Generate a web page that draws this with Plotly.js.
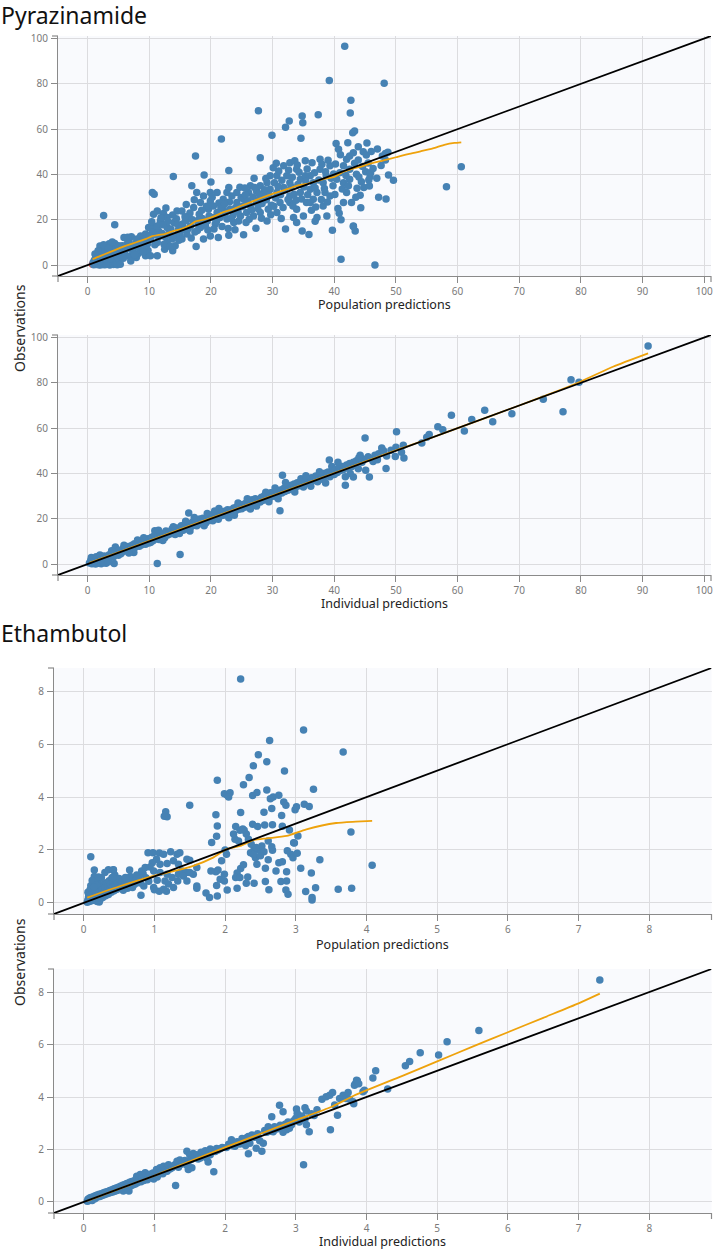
<!DOCTYPE html>
<html>
<head>
<meta charset="utf-8">
<script src="https://cdn.plot.ly/plotly-3.0.1.min.js"></script>
<style>
  html, body { margin: 0; padding: 0; background: #ffffff; }
  #gof { width: 714px; height: 1251px; }
</style>
</head>
<body>
<div id="gof"></div>
<script>
// Goodness-of-fit plots: observations vs population / individual predictions

const drugNames = ["Pyrazinamide", "Ethambutol"];
const xTitles = ["Population predictions", "Individual predictions"];
const yTitle = "Observations";

const pzaRange = [-4.8, 101.1];
const embRange = [-0.42, 8.88];
const pzaXTicks = [0, 10, 20, 30, 40, 50, 60, 70, 80, 90, 100];
const pzaYTicks = [0, 20, 40, 60, 80, 100];
const embXTicks = [0, 1, 2, 3, 4, 5, 6, 7, 8];
const embYTicks = [0, 2, 4, 6, 8];

// Pyrazinamide: [population prediction, observation]
const pzaPredObs = [
  [0.9,1.2],[1.0,0.2],[1.1,2.1],[1.2,0.8],[1.3,3.2],[1.4,0.3],[1.5,1.8],[1.6,4.4],[1.7,0.9],[1.8,2.7],
  [1.9,0.1],[2.0,5.6],[2.1,1.5],[2.2,3.6],[2.3,0.4],[2.4,7.2],[2.5,2.4],[2.6,4.8],[2.7,0.2],[2.8,6.1],
  [2.9,1.2],[3.0,3.4],[3.1,8.3],[3.2,0.5],[3.3,5.2],[3.4,2.2],[3.5,9.4],[3.6,0.1],[3.7,4.1],[3.8,6.8],
  [3.9,1.6],[4.0,8.0],[4.1,3.0],[4.2,0.3],[4.3,5.9],[4.4,9.5],[4.5,1.1],[4.6,7.3],[4.7,3.8],[4.8,0.2],
  [4.9,5.0],[5.0,8.6],[5.1,2.6],[5.2,6.5],[5.3,0.4],[2.0,8.4],[2.6,9.0],[1.7,6.3],[3.4,7.5],[4.0,10.2],
  [2.2,0.2],[3.0,0.3],[5.5,4.6],[5.7,7.8],[1.2,4.9],[2.9,2.6],[3.7,2.8],[4.5,4.6],[2.6,21.9],[4.4,17.8],
  [5.9,12.2],[7.1,12.5],[6.4,9.3],[7.9,3.4],[8.6,7.0],[9.4,4.1],[9.7,9.3],[8.6,12.9],[8.0,11.5],[9.4,13.7],
  [9.1,10.0],[7.5,8.5],[6.2,7.0],[5.6,8.5],[6.7,10.7],[9.9,16.6],[6.0,5.2],[6.8,3.9],[7.3,6.3],[7.8,9.6],
  [8.2,5.1],[8.9,8.2],[9.2,11.4],[9.8,6.4],[6.5,12.3],[5.8,3.0],[7.0,1.8],[8.4,10.2],[9.6,12.1],[6.9,7.9],
  [8.1,8.0],[7.6,4.6],[9.0,5.8],
  [10.2,4.1],[11.3,4.1],[10.2,11.5],[11.3,10.0],[12.5,7.0],[13.8,6.3],[14.2,8.5],[10.7,22.5],[11.3,23.9],[12.3,22.8],
  [12.9,21.0],[11.8,19.5],[10.7,16.6],[10.5,14.4],[11.5,15.1],[12.9,16.6],[14.0,18.8],[14.5,23.9],[13.7,11.5],[12.9,10.0],
  [10.5,32.0],[10.8,31.3],[13.9,39.1],[11.3,17.3],[10.1,12.8],[10.9,9.0],[11.6,12.6],[12.1,14.0],[12.6,12.4],[13.2,13.8],
  [13.5,15.9],[14.1,13.0],[14.7,15.4],[13.0,19.3],[12.2,17.8],[14.4,20.5],[14.8,11.0],[10.4,19.1],[11.1,13.3],[12.4,9.2],
  [13.4,8.2],[14.6,17.9],[13.8,22.1],[12.7,25.2],[11.9,20.9],[14.9,13.8],
  [15.3,23.9],[16.4,21.7],[17.2,25.4],[18.3,27.6],[18.8,30.5],[19.9,32.0],[17.7,32.0],[16.9,35.0],[19.4,19.5],[18.3,16.6],
  [16.7,17.3],[15.0,12.9],[15.3,11.5],[16.1,13.7],[17.6,8.2],[18.8,11.5],[19.9,12.9],[17.5,48.2],[18.9,39.8],[19.6,24.7],
  [19.9,28.3],[15.6,15.8],[15.9,19.6],[16.3,16.1],[16.6,23.0],[17.0,20.0],[17.4,14.6],[17.9,18.3],[18.1,22.4],[18.6,20.6],
  [19.1,17.6],[19.3,26.0],[15.4,18.2],[16.0,26.8],[17.3,28.9],[18.5,24.2],[19.7,21.7],[15.8,21.3],[17.8,15.3],[19.5,15.5],
  [16.8,12.0],[18.0,19.9],
  [20.0,36.7],[21.0,32.0],[22.0,29.1],[22.6,32.0],[23.4,30.5],[24.2,27.6],[22.9,34.2],[24.2,32.0],[21.2,12.2],[22.9,13.2],
  [21.7,55.7],[22.9,41.7],[20.4,26.1],[21.0,23.2],[20.4,21.0],[22.6,20.3],[23.7,18.8],[24.8,21.7],[22.0,24.7],[21.5,21.0],
  [23.1,24.7],[20.7,18.2],[21.3,27.4],[21.8,17.0],[22.3,22.6],[23.0,27.9],[23.6,22.1],[24.0,25.3],[24.5,19.5],[24.9,29.8],
  [20.2,30.0],[21.6,25.6],[22.8,16.2],[23.3,20.7],[24.4,23.6],[20.9,19.3],[23.9,15.6],[24.7,34.4],[20.5,15.9],[22.2,27.0],
  [25.3,29.1],[26.1,32.0],[26.4,35.0],[27.4,32.7],[28.0,35.0],[28.5,30.5],[29.1,36.4],[29.6,39.4],[30.1,43.0],[29.6,33.5],
  [27.7,68.1],[29.9,57.3],[28.0,47.4],[29.3,24.7],[28.0,23.2],[26.9,21.7],[25.8,23.2],[25.3,13.4],[27.3,16.3],[25.7,18.8],
  [29.1,19.5],[27.4,27.6],[26.4,26.1],[25.1,25.9],[25.6,31.1],[26.0,28.4],[26.6,24.3],[26.8,30.1],[27.1,34.3],[27.6,25.0],
  [27.9,29.4],[28.3,27.2],[28.7,33.3],[29.0,28.8],[29.4,31.0],[29.8,26.4],[25.5,34.0],[26.2,20.2],[27.0,38.3],[28.2,20.7],
  [28.9,38.2],[29.7,22.2],[25.9,27.0],[27.8,31.5],
  [30.7,23.2],[30.7,32.0],[31.8,34.2],[32.8,36.4],[32.3,39.4],[32.8,45.2],[33.6,46.0],[32.8,27.6],[33.9,24.7],[33.4,21.0],
  [35.0,21.7],[33.9,18.8],[32.8,30.5],[31.2,27.6],[30.7,39.4],[31.8,43.8],[33.9,42.3],[34.5,32.0],[34.5,37.9],[32.1,15.9],
  [34.8,15.1],[32.7,63.6],[34.8,65.8],[34.9,62.8],[32.1,60.8],[34.6,56.0],[30.3,36.3],[30.5,29.6],[30.9,34.7],[31.3,31.0],
  [31.5,37.5],[31.7,25.4],[32.0,33.1],[32.5,29.0],[33.0,34.7],[33.2,38.8],[33.5,31.3],[33.8,28.6],[34.1,35.6],[34.3,41.0],
  [34.7,29.2],[30.2,26.0],[31.0,41.5],[32.6,41.9],[33.3,26.1],[34.0,44.2],[31.4,20.6],[30.6,45.0],
  [35.3,46.0],[36.4,45.2],[37.7,46.7],[35.5,27.6],[36.6,29.1],[37.2,32.0],[38.2,26.1],[39.3,30.5],[39.8,35.0],[36.1,33.5],
  [36.1,39.4],[37.7,42.3],[38.7,39.4],[38.8,21.7],[37.2,21.0],[36.1,27.6],[35.3,39.4],[36.6,36.4],[38.2,36.4],[39.3,43.8],
  [35.9,13.5],[36.9,19.4],[39.7,15.4],[37.4,66.4],[39.2,81.5],[38.5,32.0],[35.1,34.5],[35.7,31.0],[36.3,24.2],[36.9,34.0],
  [37.5,37.6],[37.9,29.0],[38.4,33.8],[38.9,27.8],[39.5,38.3],[35.6,42.4],[36.8,40.8],[37.0,25.6],[38.0,44.5],[39.0,46.3],
  [39.9,40.2],[35.4,36.9],[38.6,41.2],
  [40.4,37.9],[40.9,40.8],[41.5,43.8],[42.0,46.7],[42.5,48.2],[40.7,51.1],[40.3,53.7],[42.0,32.0],[42.5,37.9],[41.5,27.6],
  [42.8,27.6],[41.1,20.0],[43.1,17.3],[41.5,36.4],[42.5,42.3],[43.1,49.6],[41.7,96.6],[42.7,72.8],[42.6,67.1],[43.0,58.4],
  [43.3,59.2],[41.1,2.6],[43.4,15.1],[43.1,17.0],[44.2,30.8],[44.4,36.8],[43.7,33.9],[44.7,50.0],[43.9,52.2],[43.3,44.9],
  [43.9,46.4],[44.6,43.5],[45.1,41.2],[40.1,31.2],[40.6,25.0],[41.3,33.6],[41.9,39.6],[42.3,35.0],[43.6,40.1],[44.0,38.9],
  [44.8,34.2],[40.2,44.6],[41.0,48.7],[42.2,54.0],[43.5,30.0],[44.3,25.3],[40.8,22.9],
  [45.2,48.6],[45.7,34.9],[45.6,37.6],[45.8,39.0],[45.9,40.8],[47.0,51.2],[48.3,49.3],[48.7,49.8],[48.3,46.4],[48.8,39.8],
  [49.6,37.4],[47.2,30.0],[48.4,29.2],[46.6,0.1],[48.1,80.2],[45.5,45.1],[46.3,42.6],[46.9,38.3],[47.6,44.0],[45.3,53.9],
  [46.0,50.1],[47.8,48.1],[58.2,34.6],[60.6,43.4]
];
// Pyrazinamide: sample below the quantification limit
const pzaPredBlq = [[0.8,0.4]];
// Pyrazinamide: smoother through observations vs population predictions
const pzaPredSmoothX = [0.8,2,3.5,5,6.5,8,9.5,10.5,11.5,12.5,13.5,15,16.5,17.5,19,20.5,22,23.5,25,26.5,28,29.5,31,32.5,34,35.5,37,38.5,40,41.5,43,44.5,46,48,50,52,54,56,58,59.5,60.6];
const pzaPredSmoothY = [2.6,4.0,5.6,7.3,8.8,10.2,11.6,12.8,13.3,13.7,14.7,15.8,17.5,19.3,20.2,21.5,23.4,24.6,26.3,27.8,29.5,31.0,32.3,33.6,35.1,35.8,37.0,38.2,38.9,41.2,42.6,43.6,44.9,46.2,47.6,49.0,50.2,51.5,53.2,53.9,54.2];

// Pyrazinamide: [individual prediction, observation]
const pzaIpredObs = [
  [0.3,0.5],[0.5,1.6],[0.7,0.2],[0.9,2.3],[1.0,0.8],[1.2,1.9],[1.3,0.1],[1.5,2.6],[1.6,1.2],[1.8,0.4],
  [1.9,3.1],[2.1,1.7],[2.2,0.2],[2.4,2.9],[2.5,1.3],[2.7,3.6],[2.8,2.2],[3.0,0.4],[3.1,3.4],[3.3,2.0],
  [3.5,4.1],[3.6,2.9],[3.8,3.7],[4.0,4.8],[4.2,3.2],[4.3,0.3],[4.5,7.6],[4.6,4.4],[4.8,5.6],[5.0,3.9],
  [0.6,2.9],[1.4,3.3],[2.0,4.0],[2.6,0.6],[3.4,1.0],[3.9,5.9],[1.1,1.3],
  [5.2,6.1],[5.4,4.6],[5.6,5.5],[5.8,7.0],[6.0,5.8],[6.2,6.9],[6.4,6.0],[6.6,7.8],[6.8,6.4],[7.0,7.2],
  [7.2,8.3],[7.4,6.7],[7.6,9.0],[7.8,7.6],[8.0,8.5],[8.2,9.4],[8.4,7.9],[8.6,9.9],[8.8,8.6],[9.0,9.1],
  [9.2,10.4],[9.4,8.8],[9.6,10.0],[9.8,11.2],[7.5,5.1],[8.1,10.6],[5.9,8.3],[9.9,9.3],[6.7,4.9],[9.1,11.6],
  [10.0,10.6],[10.2,9.5],[10.4,11.9],[10.6,10.3],[10.8,12.4],[11.0,11.1],[11.3,0.3],[11.4,12.8],[11.6,10.9],[11.8,13.6],
  [12.0,12.1],[12.3,13.0],[12.5,11.6],[12.7,14.6],[13.0,12.9],[13.2,14.1],[13.5,13.4],[13.7,15.5],[14.0,14.2],[14.2,13.1],
  [14.5,15.9],[14.7,14.6],[15.0,4.3],[15.0,15.6],[10.9,14.7],[12.2,10.4],[13.9,16.5],[14.9,13.5],[11.5,14.9],
  [15.2,16.9],[15.5,14.9],[15.7,16.3],[16.0,17.4],[16.2,15.5],[16.4,22.6],[16.5,17.9],[16.8,16.6],[17.0,18.5],[17.2,17.2],
  [17.5,19.1],[17.7,16.9],[18.0,18.8],[18.2,19.9],[18.5,17.8],[18.7,20.2],[19.0,19.2],[19.2,18.3],[19.5,20.6],[19.7,19.4],
  [19.9,21.7],[15.9,18.9],[17.3,20.6],[18.9,16.9],[16.6,14.6],[19.4,22.3],
  [20.1,20.2],[20.3,19.1],[20.5,21.5],[20.8,20.5],[21.0,22.0],[21.2,19.8],[21.5,21.2],[21.7,22.9],[22.0,21.6],[22.2,23.3],
  [22.5,22.1],[22.7,24.0],[23.0,22.7],[23.2,23.9],[23.5,22.4],[23.7,24.8],[24.0,23.6],[24.2,25.3],[24.5,24.2],[24.7,25.9],
  [25.0,24.4],[21.3,24.5],[22.9,20.5],[24.4,27.0],[20.6,23.4],[23.8,21.6],
  [25.2,26.3],[25.5,25.1],[25.7,27.0],[26.0,25.9],[26.2,27.6],[26.5,26.4],[26.7,28.4],[27.0,26.9],[27.2,28.8],[27.5,27.3],
  [27.7,28.3],[28.0,27.4],[28.2,29.5],[28.5,28.2],[28.7,30.3],[29.0,28.8],[29.2,30.7],[29.5,29.2],[29.7,31.5],[30.0,29.9],
  [25.9,28.9],[27.4,25.6],[28.9,31.7],[26.4,24.3],[29.4,27.5],
  [30.2,31.6],[30.5,30.0],[30.7,32.2],[31.0,30.9],[31.2,23.5],[31.3,32.7],[31.6,39.2],[31.5,31.4],[31.8,33.4],[32.0,32.0],
  [32.3,34.1],[32.5,32.6],[32.8,33.5],[33.0,34.8],[33.3,33.2],[33.5,35.4],[33.8,34.1],[34.0,35.9],[34.3,34.6],[34.5,36.3],
  [34.8,35.1],[35.0,34.0],[30.9,28.8],[32.1,36.0],[33.6,31.8],[34.6,37.7],[30.4,33.6],
  [35.2,36.6],[35.5,35.6],[35.8,37.5],[36.0,36.0],[36.3,38.1],[36.5,36.8],[36.8,37.2],[37.0,38.9],[37.3,36.3],[37.5,38.5],
  [37.8,37.5],[38.0,39.5],[38.3,38.3],[38.5,40.1],[38.8,39.0],[39.0,40.7],[39.2,45.9],[39.3,38.6],[39.5,40.2],[39.8,41.4],
  [40.0,39.6],[36.2,34.4],[37.6,40.8],[38.6,35.8],[39.6,43.1],[35.4,39.0],
  [40.2,41.9],[40.5,40.4],[40.8,42.6],[41.0,41.3],[41.3,43.1],[41.5,41.8],[41.8,34.8],[41.8,38.5],[42.0,43.7],[42.3,42.5],
  [42.5,44.4],[42.8,43.0],[43.1,38.4],[43.1,45.0],[43.3,43.8],[43.6,45.6],[43.9,42.1],[44.2,48.0],[44.5,44.9],[44.8,46.3],
  [45.0,55.6],[45.1,41.4],[45.7,38.4],[40.6,45.0],[42.6,40.0],[44.0,46.9],
  [46.0,46.5],[46.6,48.0],[47.2,48.7],[47.7,51.2],[48.4,42.2],[48.5,47.7],[49.9,47.5],[50.0,51.6],[50.1,58.4],[50.9,49.4],
  [51.2,52.4],[51.3,46.8],[54.2,53.5],[55.0,56.0],[55.4,57.2],[45.5,47.4],[46.3,45.3],[47.0,46.1],[48.0,50.0],[49.2,50.3],
  [56.8,60.6],[57.6,59.3],[59.0,65.7],[61.1,58.7],[62.3,63.8],[64.4,67.9],[65.7,62.8],[68.8,66.3],[73.9,72.7],[77.1,67.2],
  [78.4,81.4],[79.7,80.2],[90.9,96.3]
];
const pzaIpredSmoothX = [0.3,5,10,20,30,40,50,55,60,70,75,80,85.2,90.9];
const pzaIpredSmoothY = [0.6,5.2,10.3,20.3,30.2,40.2,50.2,55.0,60.0,70.0,75.1,80.6,87.1,93.0];

// Ethambutol: [population prediction, observation]
const embPredObs = [
  [0.05,0.02],[0.06,0.12],[0.07,0.25],[0.08,0.05],[0.09,0.18],[0.10,0.32],[0.11,0.08],[0.12,0.22],[0.13,0.40],[0.14,0.10],
  [0.15,0.28],[0.16,0.48],[0.17,0.15],[0.18,0.35],[0.19,0.05],[0.20,0.55],[0.21,0.25],[0.22,0.42],[0.23,0.12],[0.24,0.62],
  [0.25,0.33],[0.26,0.50],[0.27,0.20],[0.28,0.70],[0.29,0.38],[0.30,0.58],[0.31,0.27],[0.32,0.76],[0.33,0.45],[0.34,0.64],
  [0.35,0.32],[0.36,0.84],[0.37,0.52],[0.38,0.70],[0.39,0.40],[0.40,0.95],[0.41,0.60],[0.42,0.78],[0.43,0.46],[0.44,1.05],
  [0.45,0.66],[0.46,0.85],[0.47,0.52],[0.48,0.74],[0.50,0.92],[0.52,0.60],[0.54,0.80],[0.56,0.48],[0.58,0.70],[0.60,0.88],
  [0.62,0.55],[0.64,0.76],[0.66,1.00],[0.68,0.62],[0.70,0.84],[0.72,0.70],[0.75,1.05],[0.78,0.90],[0.80,0.75],[0.84,1.10],
  [0.88,0.95],[0.92,0.82],[0.10,0.65],[0.15,1.00],[0.12,0.85],[0.20,0.80],[0.30,1.15],[0.35,1.25],[0.25,0.95],[0.42,1.25],
  [0.18,0.68],[0.06,0.40],[0.09,0.50],[0.22,0.03],[0.08,0.30],[0.14,0.60],
  [0.10,1.74],[0.15,1.24],[0.21,0.98],[0.42,1.24],[0.41,0.96],[0.65,1.24],[0.59,0.96],[0.85,0.64],[0.81,0.29],[0.69,0.58],
  [0.73,0.83],[0.82,1.21],[0.91,1.90],[0.98,1.90],[1.00,0.50],[1.07,0.44],[1.17,0.44],
  [1.07,1.89],[1.13,1.84],[1.08,1.46],[1.18,1.49],[1.03,1.65],[0.97,1.52],[0.94,1.36],[0.87,1.34],[0.99,1.21],[1.08,1.15],
  [1.18,1.08],[1.25,0.96],[1.34,1.08],[1.39,1.21],[1.45,1.15],[1.04,0.86],[1.15,0.83],[1.20,0.71],[1.27,0.58],[1.13,0.52],
  [0.99,0.58],[1.33,0.83],[1.41,1.02],[1.46,0.83],[1.34,1.46],[1.27,1.59],[1.32,1.84],[1.23,1.93],[1.36,1.90],[1.46,1.65],
  [1.50,1.61],[1.60,1.34],[1.55,1.08],[1.50,1.15],[1.60,0.64],[1.60,0.55],[1.73,0.37],[1.78,0.20],[1.89,0.26],[1.93,0.89],
  [1.88,0.66],[1.90,1.24],[1.87,1.18],[1.80,1.21],[1.95,1.59],[2.02,1.84],[2.00,2.00],[1.99,0.83],[1.99,1.08],[2.17,0.55],
  [2.03,0.49],[2.32,0.98],[2.30,0.74],[2.41,0.74],[2.22,1.30],[2.26,1.44],[2.17,1.13],[2.15,0.96],[2.21,0.96],
  [1.16,3.45],[1.18,3.26],[1.14,3.28],[1.50,3.69],
  [2.22,8.46],[3.11,6.54],[3.67,5.70],[2.63,6.14],[2.47,5.60],[2.59,5.34],[2.40,5.18],[2.34,4.74],[2.84,4.99],[2.26,4.47],
  [1.89,4.64],[1.99,4.13],[2.03,4.07],[2.07,4.16],[2.05,4.00],[2.39,4.06],[2.45,4.17],[2.59,4.27],[2.68,4.00],[2.64,3.94],
  [2.76,4.07],[2.83,3.81],[2.86,3.69],[2.99,3.52],[3.01,3.63],[3.12,3.73],[3.19,3.64],[3.25,4.30],[2.22,3.42],[2.55,3.43],
  [2.66,3.57],[1.87,3.33],[2.80,3.30],[1.89,2.91],[1.88,2.52],[1.81,2.28],[2.15,2.89],[2.21,2.75],[2.27,2.75],[2.39,2.97],
  [2.46,2.89],[2.56,2.94],[2.67,2.95],[2.81,2.90],[2.91,2.76],[3.03,2.53],[2.97,2.27],[3.78,2.68],[4.08,1.42],[3.34,1.63],
  [3.60,0.52],[3.79,0.55],[3.28,0.57],[3.14,0.43],[3.23,0.20],[3.23,0.11],[2.89,0.33],[2.86,0.49],[2.57,0.81],[2.62,0.50],
  [2.79,0.81],[2.87,0.83],[3.07,1.31],[3.22,1.13],[2.93,1.84],[2.96,1.71],[3.02,1.88],[2.88,1.97],[2.98,2.26],[2.81,1.56],
  [2.76,1.52],[2.72,1.21],[2.87,1.18],[2.67,1.99],[2.61,1.63],[2.57,1.31],[2.45,1.46],[2.43,1.71],[2.48,1.99],[2.41,2.03],
  [2.37,2.22],[2.36,1.90],[2.40,1.84],[2.44,2.09],[2.52,2.15],[2.55,1.93],[2.50,1.78],[2.61,2.34],[2.66,2.12],[2.33,2.41],
  [2.30,2.60],[2.25,2.79],[2.19,2.34],[2.14,2.41],[2.12,2.60]
];
const embPredSmoothX = [0.05,0.5,0.99,1.3,1.55,1.83,2.02,2.21,2.40,2.59,2.87,3.15,3.57,3.85,4.08];
const embPredSmoothY = [0.2,0.62,1.02,1.22,1.40,1.71,2.03,2.15,2.37,2.44,2.53,2.78,3.02,3.07,3.10];

// Ethambutol: [individual prediction, observation]
const embIpredObs = [
  [0.05,0.03],[0.06,0.10],[0.07,0.05],[0.08,0.14],[0.09,0.08],[0.10,0.17],[0.11,0.12],[0.12,0.06],[0.13,0.19],[0.14,0.14],
  [0.15,0.22],[0.16,0.12],[0.17,0.24],[0.18,0.18],[0.19,0.27],[0.20,0.20],[0.22,0.29],[0.23,0.21],[0.25,0.31],[0.26,0.25],
  [0.28,0.35],[0.29,0.28],[0.31,0.38],[0.32,0.30],[0.34,0.40],[0.35,0.33],[0.37,0.44],[0.38,0.36],[0.40,0.47],[0.41,0.38],
  [0.43,0.50],[0.44,0.41],[0.46,0.53],[0.47,0.44],[0.49,0.56],[0.50,0.47],[0.52,0.60],[0.53,0.50],[0.55,0.64],[0.56,0.42],
  [0.58,0.67],[0.59,0.55],[0.61,0.70],[0.62,0.58],[0.64,0.42],[0.65,0.75],[0.67,0.62],[0.68,0.78],[0.70,0.66],[0.72,0.82],
  [0.73,0.69],[0.75,0.98],[0.76,0.73],[0.78,0.88],[0.80,1.05],[0.81,0.77],[0.83,0.92],[0.85,0.82],[0.87,1.11],[0.88,0.97],
  [0.90,0.85],[0.92,0.98],[0.94,1.06],[0.96,0.92],[0.98,1.10],[0.99,0.88],
  [1.01,1.02],[1.03,1.24],[1.04,0.95],[1.06,1.05],[1.08,1.30],[1.10,1.17],[1.12,1.08],[1.13,1.36],[1.15,1.20],[1.18,1.17],
  [1.20,1.42],[1.22,1.26],[1.25,1.30],[1.27,1.36],[1.29,1.42],[1.30,0.63],[1.32,1.55],[1.34,1.32],[1.36,1.60],[1.38,1.44],
  [1.40,1.49],[1.43,1.58],[1.46,1.40],[1.46,1.93],[1.48,1.24],[1.48,1.55],[1.50,1.80],[1.52,1.62],[1.53,1.30],[1.55,1.85],
  [1.57,1.70],[1.60,1.80],[1.62,1.64],[1.65,1.68],[1.66,1.90],[1.68,1.87],[1.70,1.76],[1.72,1.95],[1.74,1.68],[1.76,1.52],
  [1.77,1.84],[1.79,2.02],[1.79,1.80],[1.82,1.97],[1.84,1.15],[1.86,1.92],[1.88,2.04],[1.90,1.98],[1.93,2.03],[1.96,2.08],
  [2.02,2.08],[2.05,2.20],[2.08,2.24],[2.09,2.37],[2.11,2.14],[2.14,2.12],[2.17,2.30],[2.21,2.21],[2.24,2.42],[2.26,2.33],
  [2.29,2.15],[2.31,2.46],[2.33,1.84],[2.33,2.50],[2.35,2.24],[2.38,2.55],[2.42,2.47],[2.44,2.05],[2.46,2.60],[2.49,2.33],
  [2.52,1.93],[2.54,2.24],[2.56,2.72],[2.59,2.66],[2.61,2.87],[2.64,2.70],[2.66,3.25],[2.68,2.68],[2.70,2.87],[2.73,2.78],
  [2.77,3.69],[2.78,2.92],[2.80,2.80],[2.82,2.66],[2.82,2.75],[2.82,3.44],[2.85,2.96],[2.87,2.75],[2.89,3.05],[2.91,2.81],
  [2.94,2.94],[2.97,3.10],
  [3.00,3.19],[3.01,3.54],[3.02,3.38],[3.05,3.05],[3.08,3.28],[3.11,1.42],[3.13,3.16],[3.13,3.59],[3.15,3.47],[3.15,2.94],
  [3.19,2.68],[3.22,3.36],[3.26,3.30],[3.30,3.52],[3.37,3.92],[3.43,4.01],[3.48,4.07],[3.49,2.75],[3.52,4.17],[3.55,3.70],
  [3.59,3.31],[3.62,3.94],[3.67,4.07],[3.71,3.94],[3.74,4.17],[3.76,3.92],[3.81,3.82],[3.82,3.74],[3.83,4.45],[3.84,4.50],
  [3.86,4.64],[3.87,4.62],[3.89,4.51],[3.95,4.20],[3.97,4.26],
  [4.09,4.73],[4.13,5.00],[4.30,4.31],[4.55,5.19],[4.61,5.35],[4.76,5.69],[5.02,5.60],[5.14,6.11],[5.59,6.54],[7.30,8.46]
];
const embIpredSmoothX = [0.05,0.5,1.0,1.5,2.0,2.5,3.0,3.5,3.82,4.5,5.0,5.5,6.0,6.5,7.0,7.3];
const embIpredSmoothY = [0.04,0.5,1.0,1.55,2.08,2.6,3.12,3.62,4.05,4.80,5.36,5.92,6.47,7.02,7.57,7.94];

// ---- styling ----
const pointColor = "#4682b4";
const blqColor = "#d9534f";
const smoothColor = "#eea20c";
const unityColor = "#000000";
const W = 714, H = 1251;
const px = v => v / W;
const py = v => 1 - v / H;

const xs = pts => pts.map(p => p[0]);
const ys = pts => pts.map(p => p[1]);

function panelTraces(idx, pts, smoothX, smoothY, range, blq) {
  const xa = idx === 1 ? "x" : "x" + idx;
  const ya = idx === 1 ? "y" : "y" + idx;
  const out = [];
  if (blq) {
    out.push({type: "scatter", mode: "markers", x: xs(blq), y: ys(blq), xaxis: xa, yaxis: ya,
      marker: {color: blqColor, size: 7.5}, hoverinfo: "x+y"});
  }
  out.push({type: "scatter", mode: "markers", x: xs(pts), y: ys(pts), xaxis: xa, yaxis: ya,
    marker: {color: pointColor, size: 7.5}, hoverinfo: "x+y"});
  out.push({type: "scatter", mode: "lines", x: smoothX, y: smoothY, xaxis: xa, yaxis: ya,
    line: {color: smoothColor, width: 1.8, shape: "spline", smoothing: 0.6}, hoverinfo: "skip"});
  out.push({type: "scatter", mode: "lines", x: range, y: range, xaxis: xa, yaxis: ya,
    line: {color: unityColor, width: 1.8}, hoverinfo: "skip"});
  return out;
}

const data = [
  ...panelTraces(1, pzaPredObs, pzaPredSmoothX, pzaPredSmoothY, pzaRange, pzaPredBlq),
  ...panelTraces(2, pzaIpredObs, pzaIpredSmoothX, pzaIpredSmoothY, pzaRange),
  ...panelTraces(3, embPredObs, embPredSmoothX, embPredSmoothY, embRange),
  ...panelTraces(4, embIpredObs, embIpredSmoothX, embIpredSmoothY, embRange)
];

const tickFont = {family: "Noto Sans, Liberation Sans, sans-serif", size: 10, color: "#7a7a7a"};
function axis(domain, range, ticks, anchor, standoff) {
  return {
    domain: domain, range: range, anchor: anchor,
    tickmode: "array", tickvals: ticks, ticktext: ticks.map(String),
    showgrid: true, gridcolor: "#dcdcdf", gridwidth: 1,
    zeroline: false, showline: true, linecolor: "#8a8a8a", linewidth: 1.2,
    ticks: "outside", ticklen: 6, tickcolor: "#8a8a8a", tickwidth: 1.2,
    ticklabelstandoff: standoff,
    tickfont: tickFont, fixedrange: true
  };
}

// panel boxes in pixels: [left, right, top, bottom]
const boxes = [
  [58, 711, 36, 276],
  [58, 711, 335, 575],
  [54, 711.5, 668, 914],
  [54, 711.5, 969, 1213]
];
const ranges = [pzaRange, pzaRange, embRange, embRange];
const xticks = [pzaXTicks, pzaXTicks, embXTicks, embXTicks];
const yticks = [pzaYTicks, pzaYTicks, embYTicks, embYTicks];

const layout = {
  width: W, height: H,
  margin: {l: 0, r: 0, t: 0, b: 0},
  paper_bgcolor: "#ffffff",
  plot_bgcolor: "#f9fafd",
  showlegend: false,
  hovermode: "closest",
  annotations: [],
  shapes: []
};

boxes.forEach((b, i) => {
  const n = i + 1;
  const xk = n === 1 ? "xaxis" : "xaxis" + n;
  const yk = n === 1 ? "yaxis" : "yaxis" + n;
  const xr = n === 1 ? "x" : "x" + n;
  const yr = n === 1 ? "y" : "y" + n;
  layout[xk] = axis([px(b[0]), px(b[1])], ranges[i], xticks[i], yr, 0);
  layout[yk] = axis([py(b[3]), py(b[2])], ranges[i], yticks[i], xr, 1);
  // end caps on both axis lines
  [0, 1].forEach(e => {
    layout.shapes.push({type: "line", xref: xr + " domain", yref: yr + " domain",
      x0: e, x1: e, ysizemode: "pixel", yanchor: 0, y0: 0, y1: -6,
      line: {color: "#8a8a8a", width: 1.2}});
    layout.shapes.push({type: "line", xref: xr + " domain", yref: yr + " domain",
      y0: e, y1: e, xsizemode: "pixel", xanchor: 0, x0: 0, x1: -6,
      line: {color: "#8a8a8a", width: 1.2}});
  });
});

const titleFont = {family: "Noto Sans, sans-serif", size: 23, color: "#111111"};
const axisTitleFont = {family: "Noto Sans, sans-serif", size: 12.5, color: "#222222"};

layout.annotations.push(
  {text: drugNames[0], xref: "paper", yref: "paper", x: 0, y: py(-2), xanchor: "left", yanchor: "top",
   showarrow: false, font: titleFont, borderpad: 0},
  {text: drugNames[1], xref: "paper", yref: "paper", x: 0, y: py(616), xanchor: "left", yanchor: "top",
   showarrow: false, font: titleFont, borderpad: 0}
);
const xTitleY = [304, 603, 944];
boxes.forEach((b, i) => {
  const last = i === boxes.length - 1;
  layout.annotations.push({text: xTitles[i % 2], xref: "paper", yref: "paper",
    x: px((b[0] + b[1]) / 2), y: last ? 0 : py(xTitleY[i]),
    xanchor: "center", yanchor: last ? "bottom" : "middle",
    showarrow: false, font: axisTitleFont, borderpad: 0});
});
[328, 962].forEach(c => {
  layout.annotations.push({text: yTitle, xref: "paper", yref: "paper", x: px(19), y: py(c),
    xanchor: "center", yanchor: "middle", textangle: -90, showarrow: false,
    font: {family: "Noto Sans, sans-serif", size: 14, color: "#222222"}, borderpad: 0});
});

Plotly.newPlot("gof", data, layout, {displayModeBar: false, responsive: false});
</script>
</body>
</html>
